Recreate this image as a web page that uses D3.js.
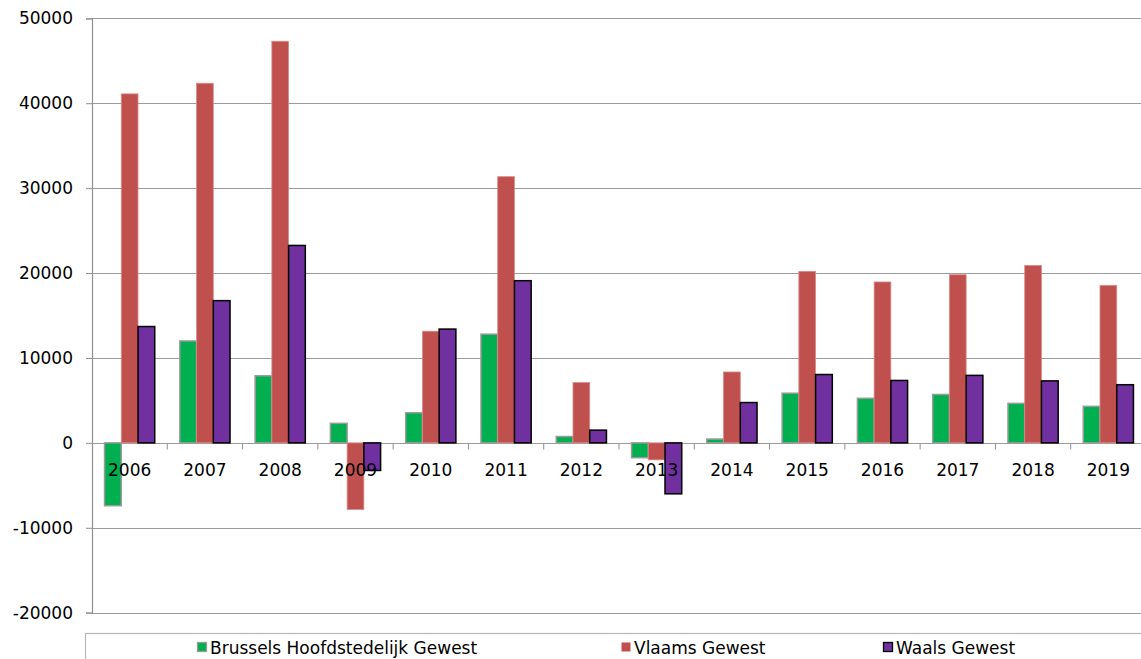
<!DOCTYPE html>
<html>
<head>
<meta charset="utf-8">
<script src="https://cdn.jsdelivr.net/npm/d3@7"></script>
<style>
  body { margin: 0; background: #fff; }
  svg { display: block; font-family: "DejaVu Sans", Verdana, sans-serif; }
</style>
</head>
<body>
<svg id="chart" width="1141" height="659"></svg>
<script>
// chart values
var years = ['2006', '2007', '2008', '2009', '2010', '2011', '2012', '2013', '2014', '2015', '2016', '2017', '2018', '2019'];
var seriesNames = ['Brussels Hoofdstedelijk Gewest', 'Vlaams Gewest', 'Waals Gewest'];
var brussels = [-7400, 12000, 7900, 2300, 3550, 12800, 750, -1750, 450, 5850, 5250, 5700, 4650, 4300];
var vlaams = [41100, 42350, 47300, -7850, 13150, 31350, 7100, -2000, 8350, 20200, 18950, 19800, 20900, 18550];
var waals = [13700, 16750, 23250, -3250, 13400, 19100, 1500, -6000, 4750, 8050, 7350, 7950, 7300, 6850];
var yTicks = [-20000, -10000, 0, 10000, 20000, 30000, 40000, 50000];

var colors = ['#00b050', '#c0504d', '#7030a0'];
var strokes = ['#9a9a9a', '#d98c8a', '#000000'];
var strokeWidths = [1.5, 0.8, 1.5];
var values = [brussels, vlaams, waals];

var svg = d3.select('#chart');
var plotLeft = 92, plotRight = 1146, plotTop = 18.3, plotBottom = 612.7;

var y = d3.scaleLinear().domain([-20000, 50000]).range([plotBottom, plotTop]);
var x0 = d3.scaleBand().domain(years).range([plotLeft, plotRight]);
var x1 = d3.scaleBand().domain(d3.range(3)).range([0, x0.bandwidth()])
  .paddingInner(0).paddingOuter(0.75);

// gridlines
svg.append('g')
  .selectAll('line')
  .data(yTicks)
  .join('line')
  .attr('x1', plotLeft).attr('x2', 1141)
  .attr('y1', function(d) { return Math.round(y(d)) + 0.5; })
  .attr('y2', function(d) { return Math.round(y(d)) + 0.5; })
  .attr('stroke', '#9c9c9c')
  .attr('stroke-width', 1.2);

// y axis, plain hyphen for negatives like the original
var yAxis = d3.axisLeft(y).tickValues(yTicks).tickSize(6).tickPadding(13)
  .tickFormat(function(d) { return String(d); });
svg.append('g')
  .attr('transform', 'translate(' + plotLeft + ',0)')
  .call(yAxis)
  .call(function(g) {
    g.select('.domain').attr('stroke', '#909090').attr('stroke-width', 1.2);
    g.selectAll('.tick line').attr('stroke', '#909090');
    g.selectAll('.tick text').attr('font-size', 17).attr('fill', '#000')
      .attr('font-family', '"DejaVu Sans", Verdana, sans-serif');
  });

// bars
values.forEach(function(vals, s) {
  svg.append('g')
    .selectAll('rect')
    .data(vals)
    .join('rect')
    .attr('x', function(d, i) { return x0(years[i]) + x1(s); })
    .attr('width', x1.bandwidth())
    .attr('y', function(d) { return y(Math.max(0, d)); })
    .attr('height', function(d) { return Math.abs(y(d) - y(0)); })
    .attr('fill', colors[s])
    .attr('stroke', strokes[s])
    .attr('stroke-width', strokeWidths[s]);
});

// category ticks on the zero line
var zeroY = Math.round(y(0)) + 0.5;
svg.append('g')
  .selectAll('line')
  .data(years.slice(1))
  .join('line')
  .attr('x1', function(d) { return x0(d); })
  .attr('x2', function(d) { return x0(d); })
  .attr('y1', zeroY).attr('y2', zeroY + 6)
  .attr('stroke', '#909090');

// category labels, drawn over the bars
svg.append('g')
  .selectAll('text')
  .data(years)
  .join('text')
  .attr('x', function(d) { return x0(d) + x0.bandwidth() / 2; })
  .attr('y', 476)
  .attr('text-anchor', 'middle')
  .attr('font-size', 17)
  .attr('fill', '#000')
  .text(function(d) { return d; });

// legend
svg.append('rect')
  .attr('x', 85.5).attr('y', 633.5)
  .attr('width', 1080).attr('height', 60)
  .attr('fill', '#fff')
  .attr('stroke', '#b8b8b8')
  .attr('stroke-width', 1.2);

var legendX = [197, 621, 883];
var legend = svg.append('g')
  .selectAll('g')
  .data(seriesNames)
  .join('g')
  .attr('transform', function(d, i) { return 'translate(' + legendX[i] + ',0)'; });
legend.append('rect')
  .attr('x', 0.5).attr('y', 642.5)
  .attr('width', 9).attr('height', 9)
  .attr('fill', function(d, i) { return colors[i]; })
  .attr('stroke', function(d, i) { return i === 1 ? 'none' : strokes[i]; })
  .attr('stroke-width', 1.3);
legend.append('text')
  .attr('x', 13).attr('y', 654)
  .attr('font-size', 17)
  .attr('fill', '#000')
  .text(function(d) { return d; });
</script>
</body>
</html>
